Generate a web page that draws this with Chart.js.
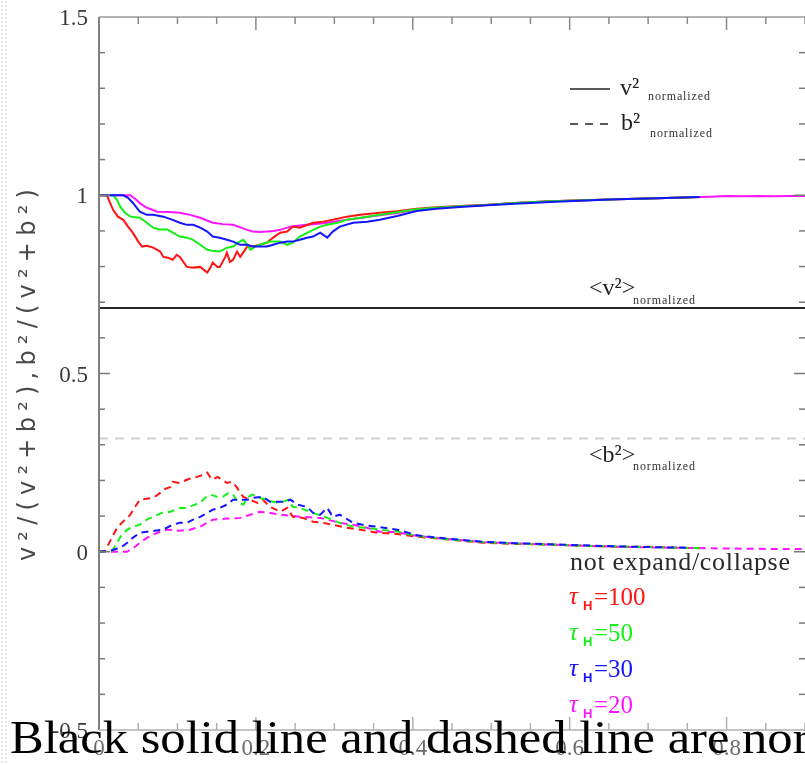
<!DOCTYPE html>
<html>
<head>
<meta charset="utf-8">
<script src="https://cdn.jsdelivr.net/npm/chart.js@4/dist/chart.umd.min.js"></script>
<style>
  html, body { margin: 0; padding: 0; background: #fff; overflow: hidden; }
  #wrap { position: relative; width: 805px; height: 765px; }
  #edge { position: absolute; left: 0; top: 0; width: 8px; height: 765px;
          background-image: radial-gradient(#e8e8e8 1px, transparent 1.2px);
          background-size: 4px 4px; }
  canvas { position: absolute; left: 0; top: 0; }
</style>
</head>
<body>
<div id="wrap">
  <canvas id="c" width="805" height="765"></canvas>
  <div id="edge"></div>
</div>
<script>
// ---- axis ticks ----
const xTickLabels = [0, 0.2, 0.4, 0.6, 0.8];
const yTickLabels = [-0.5, 0, 0.5, 1, 1.5];

// ---- time-averaged reference levels ----
const meanV2 = 0.684;
const meanB2 = 0.318;

// ---- v^2 normalized (solid) ----
const redVX = [0, 0.010, 0.018, 0.024, 0.031, 0.037, 0.043, 0.050, 0.055, 0.061, 0.069, 0.078, 0.082, 0.088, 0.094, 0.099, 0.103, 0.112, 0.120, 0.129, 0.138, 0.142, 0.145, 0.151, 0.154, 0.161, 0.163, 0.167, 0.171, 0.176, 0.180, 0.189, 0.196, 0.205, 0.214, 0.222, 0.231, 0.240, 0.247, 0.256, 0.273, 0.286, 0.298, 0.316, 0.333, 0.358, 0.380, 0.405, 0.430, 0.460, 0.490, 0.530, 0.575, 0.620, 0.660, 0.700, 0.745, 0.766];
const redV  = [1.000, 1.000, 0.959, 0.940, 0.931, 0.912, 0.895, 0.870, 0.856, 0.858, 0.853, 0.842, 0.827, 0.825, 0.819, 0.833, 0.827, 0.799, 0.797, 0.799, 0.783, 0.797, 0.811, 0.799, 0.799, 0.827, 0.839, 0.813, 0.819, 0.842, 0.827, 0.856, 0.856, 0.861, 0.867, 0.881, 0.895, 0.898, 0.912, 0.909, 0.923, 0.926, 0.931, 0.940, 0.945, 0.951, 0.955, 0.962, 0.966, 0.970, 0.973, 0.978, 0.983, 0.986, 0.989, 0.991, 0.994, 0.995];

const greenVX = [0, 0.018, 0.023, 0.027, 0.033, 0.040, 0.052, 0.061, 0.069, 0.078, 0.087, 0.094, 0.103, 0.112, 0.120, 0.129, 0.138, 0.145, 0.154, 0.163, 0.171, 0.177, 0.184, 0.189, 0.193, 0.199, 0.205, 0.218, 0.231, 0.240, 0.247, 0.256, 0.273, 0.282, 0.291, 0.304, 0.316, 0.342, 0.358, 0.380, 0.405, 0.430, 0.460, 0.490, 0.530, 0.575, 0.620, 0.660, 0.700, 0.745, 0.766];
const greenV  = [1.000, 1.000, 0.987, 0.968, 0.951, 0.940, 0.937, 0.923, 0.909, 0.904, 0.904, 0.895, 0.884, 0.881, 0.875, 0.861, 0.847, 0.844, 0.842, 0.853, 0.856, 0.867, 0.875, 0.861, 0.847, 0.856, 0.861, 0.870, 0.870, 0.861, 0.867, 0.884, 0.903, 0.912, 0.917, 0.923, 0.931, 0.940, 0.945, 0.952, 0.961, 0.965, 0.969, 0.972, 0.978, 0.983, 0.986, 0.989, 0.991, 0.994, 0.995];

const blueVX = [0, 0.031, 0.037, 0.043, 0.048, 0.052, 0.061, 0.069, 0.082, 0.094, 0.103, 0.112, 0.120, 0.129, 0.138, 0.145, 0.154, 0.163, 0.171, 0.180, 0.189, 0.196, 0.205, 0.214, 0.222, 0.231, 0.240, 0.247, 0.256, 0.265, 0.273, 0.282, 0.291, 0.298, 0.307, 0.324, 0.342, 0.358, 0.380, 0.405, 0.430, 0.460, 0.490, 0.530, 0.575, 0.620, 0.660, 0.700, 0.745, 0.766];
const blueV  = [1.000, 1.000, 0.993, 0.979, 0.965, 0.954, 0.945, 0.945, 0.940, 0.931, 0.923, 0.917, 0.917, 0.909, 0.898, 0.884, 0.881, 0.875, 0.870, 0.861, 0.861, 0.856, 0.856, 0.856, 0.861, 0.867, 0.870, 0.870, 0.875, 0.881, 0.884, 0.895, 0.881, 0.898, 0.912, 0.923, 0.926, 0.931, 0.942, 0.956, 0.962, 0.967, 0.971, 0.976, 0.981, 0.985, 0.989, 0.991, 0.994, 0.995];

const magVX = [0, 0.040, 0.046, 0.052, 0.060, 0.067, 0.074, 0.090, 0.103, 0.116, 0.129, 0.145, 0.158, 0.171, 0.180, 0.189, 0.196, 0.205, 0.214, 0.222, 0.231, 0.244, 0.256, 0.265, 0.280, 0.291, 0.304, 0.316, 0.335, 0.358, 0.380, 0.405, 0.430, 0.460, 0.490, 0.530, 0.575, 0.620, 0.660, 0.700, 0.745, 0.780, 0.800, 0.820, 0.840, 0.860, 0.880, 0.900];
const magV  = [1.000, 1.000, 0.990, 0.978, 0.966, 0.960, 0.954, 0.953, 0.951, 0.945, 0.937, 0.923, 0.919, 0.917, 0.910, 0.903, 0.898, 0.897, 0.898, 0.900, 0.903, 0.912, 0.915, 0.917, 0.920, 0.923, 0.927, 0.931, 0.937, 0.944, 0.950, 0.960, 0.964, 0.969, 0.972, 0.978, 0.983, 0.986, 0.989, 0.991, 0.994, 0.996, 0.998, 0.997, 0.998, 0.997, 0.998, 0.998];

// ---- b^2 normalized (dashed) ----
const redBX = [0, 0.008, 0.017, 0.023, 0.029, 0.040, 0.046, 0.052, 0.061, 0.069, 0.078, 0.082, 0.091, 0.094, 0.103, 0.112, 0.120, 0.125, 0.133, 0.138, 0.144, 0.151, 0.157, 0.163, 0.170, 0.176, 0.180, 0.184, 0.193, 0.202, 0.209, 0.218, 0.231, 0.240, 0.247, 0.260, 0.273, 0.286, 0.298, 0.316, 0.333, 0.355, 0.380, 0.406, 0.448, 0.490, 0.533, 0.575, 0.617, 0.661, 0.703, 0.745, 0.766];
const redB  = [0, 0.003, 0.042, 0.067, 0.081, 0.104, 0.126, 0.146, 0.149, 0.151, 0.165, 0.174, 0.182, 0.196, 0.193, 0.202, 0.208, 0.210, 0.216, 0.222, 0.202, 0.210, 0.202, 0.193, 0.196, 0.180, 0.165, 0.154, 0.146, 0.137, 0.146, 0.126, 0.112, 0.123, 0.098, 0.095, 0.084, 0.081, 0.076, 0.067, 0.062, 0.053, 0.050, 0.042, 0.034, 0.025, 0.022, 0.020, 0.017, 0.014, 0.014, 0.011, 0.010];

const greenBX = [0, 0.017, 0.023, 0.029, 0.036, 0.043, 0.052, 0.061, 0.069, 0.080, 0.091, 0.103, 0.112, 0.122, 0.129, 0.135, 0.142, 0.151, 0.158, 0.165, 0.171, 0.177, 0.184, 0.190, 0.196, 0.205, 0.214, 0.222, 0.231, 0.241, 0.247, 0.256, 0.273, 0.291, 0.307, 0.324, 0.342, 0.358, 0.380, 0.406, 0.448, 0.490, 0.533, 0.575, 0.617, 0.661, 0.703, 0.745, 0.766];
const greenB  = [0, 0.003, 0.025, 0.048, 0.062, 0.070, 0.076, 0.090, 0.098, 0.109, 0.112, 0.123, 0.123, 0.132, 0.137, 0.151, 0.160, 0.154, 0.154, 0.165, 0.160, 0.140, 0.132, 0.154, 0.160, 0.151, 0.146, 0.140, 0.137, 0.146, 0.126, 0.123, 0.109, 0.095, 0.081, 0.070, 0.067, 0.062, 0.057, 0.044, 0.034, 0.027, 0.023, 0.020, 0.017, 0.015, 0.013, 0.011, 0.010];

const blueBX = [0, 0.014, 0.027, 0.036, 0.043, 0.052, 0.061, 0.071, 0.082, 0.094, 0.103, 0.112, 0.120, 0.129, 0.138, 0.145, 0.154, 0.163, 0.171, 0.180, 0.189, 0.196, 0.209, 0.218, 0.227, 0.235, 0.244, 0.253, 0.265, 0.273, 0.282, 0.291, 0.298, 0.307, 0.324, 0.342, 0.355, 0.380, 0.406, 0.448, 0.490, 0.533, 0.575, 0.617, 0.661, 0.703, 0.755];
const blueB  = [0, 0.003, 0.011, 0.025, 0.039, 0.053, 0.056, 0.059, 0.062, 0.076, 0.081, 0.081, 0.090, 0.098, 0.109, 0.118, 0.123, 0.132, 0.146, 0.146, 0.146, 0.151, 0.154, 0.140, 0.140, 0.140, 0.146, 0.132, 0.126, 0.109, 0.104, 0.123, 0.098, 0.104, 0.081, 0.073, 0.070, 0.062, 0.046, 0.036, 0.028, 0.024, 0.021, 0.018, 0.015, 0.013, 0.011];

const magBX = [0, 0.036, 0.040, 0.046, 0.052, 0.061, 0.069, 0.078, 0.087, 0.103, 0.116, 0.129, 0.145, 0.163, 0.180, 0.193, 0.205, 0.218, 0.231, 0.256, 0.282, 0.307, 0.324, 0.342, 0.358, 0.380, 0.406, 0.448, 0.490, 0.533, 0.575, 0.617, 0.661, 0.703, 0.745, 0.800, 0.850, 0.900];
const magB  = [0, 0, 0.006, 0.014, 0.025, 0.039, 0.048, 0.056, 0.062, 0.059, 0.062, 0.070, 0.090, 0.093, 0.095, 0.104, 0.112, 0.109, 0.104, 0.098, 0.095, 0.081, 0.076, 0.067, 0.056, 0.055, 0.044, 0.035, 0.027, 0.023, 0.020, 0.017, 0.014, 0.012, 0.011, 0.009, 0.008, 0.008];

// ---- run labels ----
const runNames  = ['\u03C4', '\u03C4', '\u03C4', '\u03C4'];
const runValues = ['=100', '=50', '=30', '=20'];

const RED = '#ff1414', GREEN = '#14f014', BLUE = '#1414ff', MAGENTA = '#ff14ff';
const runColors = [RED, GREEN, BLUE, MAGENTA];

const X_MIN = 0, X_MAX = 0.9, Y_MIN = -0.5, Y_MAX = 1.5;

function pts(xs, ys) { return xs.map((x, i) => ({ x: x, y: ys[i] })); }

function curve(xs, ys, color, dashed) {
  return {
    data: pts(xs, ys),
    showLine: true,
    borderColor: color,
    borderWidth: 2,
    borderDash: dashed ? [7, 5] : [],
    pointRadius: 0,
    fill: false
  };
}

const datasets = [
  curve(blueVX, blueV, BLUE, false),
  curve(greenVX, greenV, GREEN, false),
  curve(redVX, redV, RED, false),
  curve(magVX, magV, MAGENTA, false),
  curve(blueBX, blueB, BLUE, true),
  curve(greenBX, greenB, GREEN, true),
  curve(redBX, redB, RED, true),
  curve(magBX, magB, MAGENTA, true),
  {
    data: [{ x: X_MIN, y: meanV2 }, { x: X_MAX, y: meanV2 }],
    showLine: true, borderColor: '#2a2a2a', borderWidth: 2, pointRadius: 0
  },
  {
    data: [{ x: X_MIN, y: meanB2 }, { x: X_MAX, y: meanB2 }],
    showLine: true, borderColor: '#cfcfcf', borderWidth: 2, borderDash: [9, 7], pointRadius: 0
  }
];

// text with optional letter spacing so that it spans a given width
function spaced(ctx, text, x, y, width) {
  ctx.letterSpacing = '0px';
  if (width) {
    const w = ctx.measureText(text).width;
    const s = (width - w) / Math.max(1, text.length - 1);
    ctx.letterSpacing = s.toFixed(2) + 'px';
  }
  ctx.fillText(text, x, y);
  ctx.letterSpacing = '0px';
}

// symbol with a small "normalized" subscript
function normLabel(ctx, main, x, y, subX, subY) {
  ctx.fillStyle = '#222';
  ctx.font = '24px "Liberation Serif"';
  ctx.textAlign = 'left';
  ctx.textBaseline = 'alphabetic';
  ctx.fillText(main, x, y);
  ctx.font = '12px "Liberation Serif"';
  ctx.fillStyle = '#333';
  spaced(ctx, 'normalized', subX, subY, 62);
}

const framePlugin = {
  id: 'frame',
  afterDatasetsDraw(chart) {
    const ctx = chart.ctx;
    const a = chart.chartArea;
    const xs = chart.scales.x, ys = chart.scales.y;
    ctx.save();

    // frame
    ctx.lineWidth = 2;
    ctx.strokeStyle = '#808080';
    ctx.beginPath(); ctx.moveTo(a.left, a.top); ctx.lineTo(a.left, a.bottom); ctx.stroke();
    ctx.strokeStyle = '#9a9a9a';
    ctx.lineWidth = 1.5;
    ctx.beginPath(); ctx.moveTo(a.left, a.top); ctx.lineTo(a.right, a.top); ctx.stroke();
    ctx.strokeStyle = '#c4c4c4';
    ctx.lineWidth = 2;
    ctx.beginPath(); ctx.moveTo(a.left, a.bottom); ctx.lineTo(a.right, a.bottom); ctx.stroke();

    // inward x ticks every 0.05, longer at labelled values
    ctx.lineWidth = 1.5;
    for (let k = 1; k * 0.05 < X_MAX + 1e-9; k++) {
      const v = k * 0.05;
      const px = xs.getPixelForValue(v);
      const major = Math.abs(v / 0.2 - Math.round(v / 0.2)) < 1e-6;
      const len = major ? 13 : 7;
      ctx.strokeStyle = '#8a8a8a';
      ctx.beginPath(); ctx.moveTo(px, a.top); ctx.lineTo(px, a.top + len); ctx.stroke();
      ctx.strokeStyle = '#b0b0b0';
      ctx.beginPath(); ctx.moveTo(px, a.bottom); ctx.lineTo(px, a.bottom - len); ctx.stroke();
    }
    // inward y ticks every 0.1
    for (let k = 1; k < 20; k++) {
      const v = Y_MIN + k * 0.1;
      const py = ys.getPixelForValue(v);
      const major = Math.abs(v / 0.5 - Math.round(v / 0.5)) < 1e-6;
      const len = major ? 11 : 6;
      ctx.strokeStyle = '#7a7a7a';
      ctx.beginPath(); ctx.moveTo(a.left, py); ctx.lineTo(a.left + len, py); ctx.stroke();
      ctx.beginPath(); ctx.moveTo(a.right, py); ctx.lineTo(a.right - len, py); ctx.stroke();
    }

    // tick labels
    ctx.font = '23px "Liberation Serif"';
    ctx.fillStyle = '#3a3a3a';
    ctx.textAlign = 'right';
    ctx.textBaseline = 'middle';
    yTickLabels.forEach(v => {
      ctx.fillText(String(v), a.left - 11, ys.getPixelForValue(v) + 2);
    });
    ctx.fillStyle = '#6a6a6a';
    ctx.textAlign = 'center';
    xTickLabels.forEach(v => {
      ctx.fillText(String(v), xs.getPixelForValue(v), a.bottom + 19);
    });

    // y-axis title
    ctx.save();
    ctx.translate(29, 372);
    ctx.rotate(-Math.PI / 2);
    ctx.font = '24px "DejaVu Sans"';
    ctx.fillStyle = '#4a4a4a';
    ctx.textAlign = 'center';
    ctx.textBaseline = 'middle';
    spaced(ctx, 'v\u00B2/(v\u00B2+b\u00B2),b\u00B2/(v\u00B2+b\u00B2)', 0, 0, 372);
    ctx.restore();

    // line-style key
    ctx.strokeStyle = '#222';
    ctx.lineWidth = 1.5;
    ctx.setLineDash([]);
    ctx.beginPath(); ctx.moveTo(570, 89); ctx.lineTo(610, 89); ctx.stroke();
    ctx.setLineDash([8, 7]);
    ctx.beginPath(); ctx.moveTo(570, 124); ctx.lineTo(612, 124); ctx.stroke();
    ctx.setLineDash([]);
    normLabel(ctx, 'v\u00B2', 620, 95, 648, 100);
    normLabel(ctx, 'b\u00B2', 621, 130, 650, 137);

    // mean level labels
    normLabel(ctx, '<v\u00B2>', 589, 295, 633, 304);
    normLabel(ctx, '<b\u00B2>', 589, 462, 633, 470);

    // run key
    ctx.textAlign = 'left';
    ctx.textBaseline = 'alphabetic';
    ctx.font = '26px "Liberation Serif"';
    ctx.fillStyle = '#2a2a2a';
    spaced(ctx, 'not expand/collapse', 570, 570, 220);
    runValues.forEach((val, i) => {
      const base = 605 + i * 36;
      ctx.fillStyle = runColors[i];
      ctx.font = 'italic 25px "Liberation Serif"';
      ctx.fillText(runNames[i], 569, base - 1);
      ctx.font = 'bold 13px "Liberation Sans"';
      ctx.fillText('H', 583, base + 5);
      ctx.font = '25px "Liberation Serif"';
      ctx.fillText(val, 594, base);
    });

    ctx.restore();
  },
  afterDraw(chart) {
    // wide serif caption along the bottom edge
    const ctx = chart.ctx;
    ctx.save();
    ctx.translate(10, 753);
    ctx.scale(1.1, 1);
    ctx.font = '46px "Liberation Serif"';
    ctx.fillStyle = '#000';
    ctx.textAlign = 'left';
    ctx.textBaseline = 'alphabetic';
    ctx.fillText('Black solid line and dashed line are normalized', 0, 0);
    ctx.restore();
  }
};

new Chart(document.getElementById('c'), {
  type: 'scatter',
  data: { datasets: datasets },
  options: {
    responsive: false,
    animation: false,
    events: [],
    layout: { padding: { left: 99, top: 17, right: 0, bottom: 35 } },
    plugins: { legend: { display: false }, tooltip: { enabled: false } },
    scales: {
      x: { type: 'linear', min: X_MIN, max: X_MAX, display: false },
      y: { type: 'linear', min: Y_MIN, max: Y_MAX, display: false }
    }
  },
  plugins: [framePlugin]
});
</script>
</body>
</html>
